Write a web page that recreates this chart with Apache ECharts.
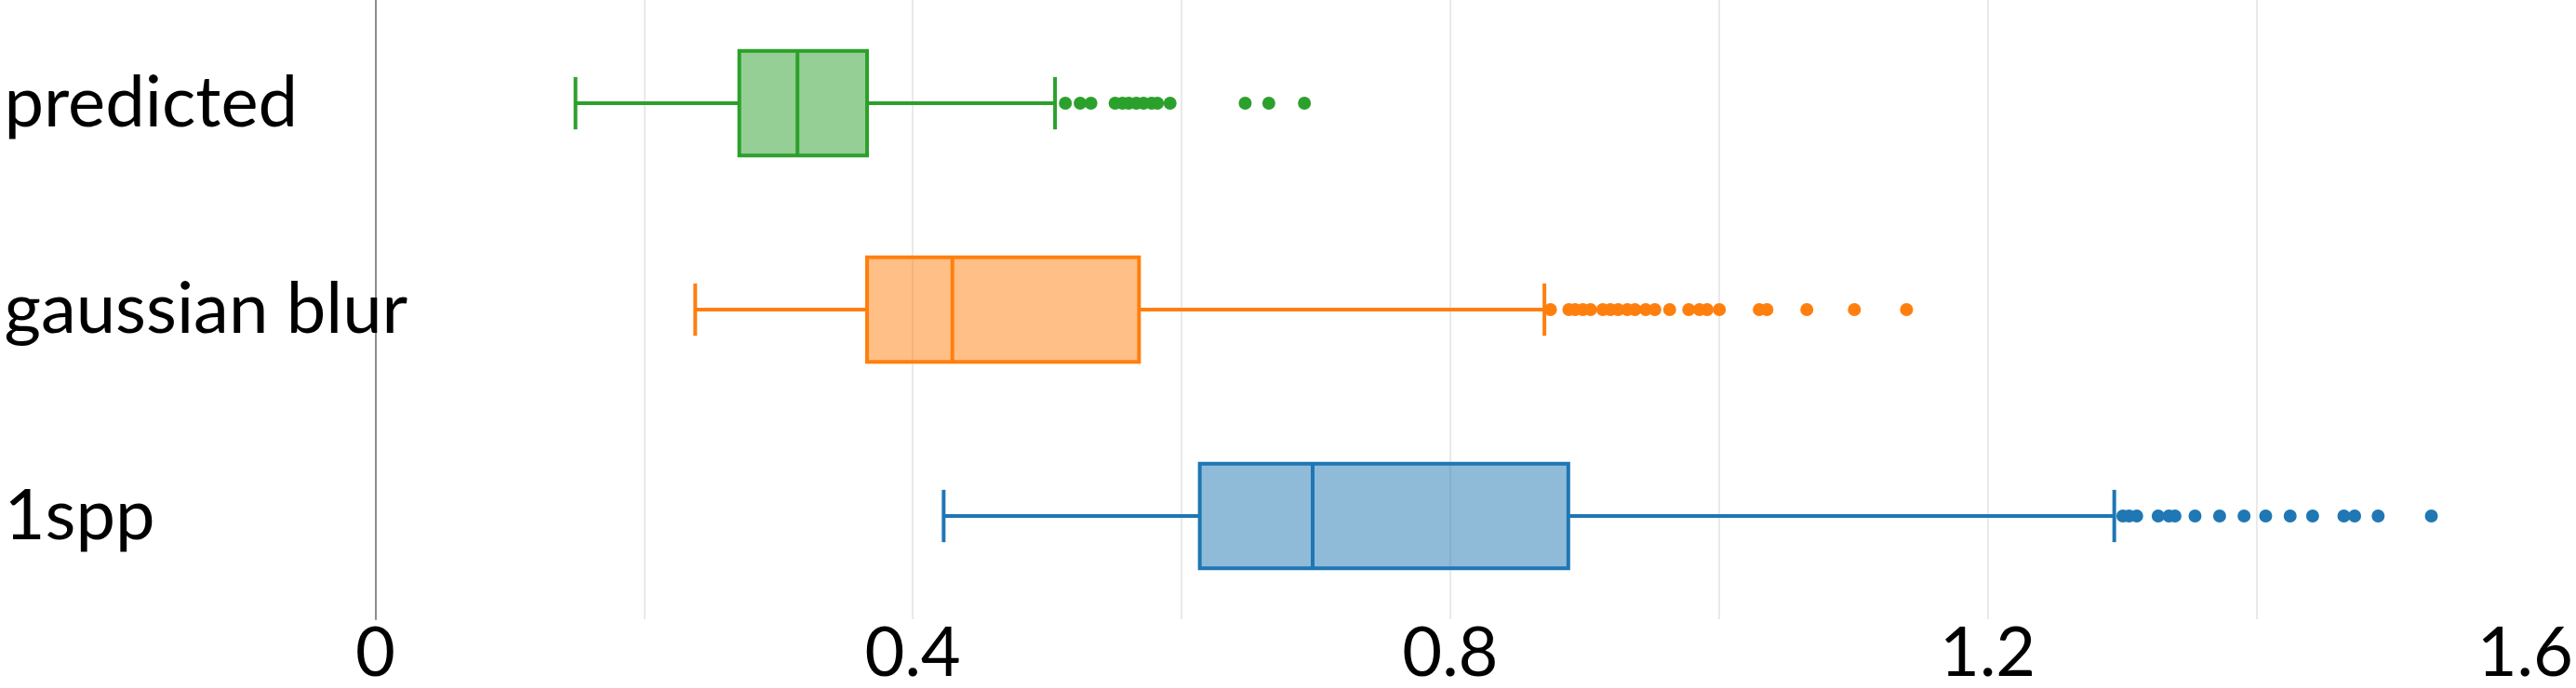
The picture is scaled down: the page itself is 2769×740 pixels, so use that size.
<!DOCTYPE html>
<html>
<head>
<meta charset="utf-8">
<script src="https://cdn.jsdelivr.net/npm/echarts@6/dist/echarts.min.js"></script>
<style>
html,body{margin:0;padding:0;background:#fff;}
#chart{width:2769px;height:740px;}
</style>
</head>
<body>
<div id="chart"></div>
<script>
// Categories, top to bottom
const categories = ['predicted', 'gaussian blur', '1spp'];
const colors = ['#2ca02c', '#ff7f0e', '#1f77b4'];
const fills = ['rgba(44,160,44,0.5)', 'rgba(255,127,14,0.5)', 'rgba(31,119,180,0.5)'];

// Box statistics: [lower whisker, Q1, median, Q3, upper whisker]
const predictedBox = [0.149, 0.2709, 0.3142, 0.366, 0.5059];
const gaussianBox = [0.2381, 0.366, 0.4295, 0.5684, 0.8701];
const sppBox = [0.423, 0.6136, 0.6976, 0.8879, 1.2942];

// Outliers
const predictedOutliers = [0.5136, 0.5246, 0.5326, 0.5506, 0.5561, 0.5607, 0.5664, 0.5718, 0.5778, 0.5821, 0.5915, 0.6474, 0.665, 0.6915];
const gaussianOutliers = [0.8746, 0.8883, 0.893, 0.8987, 0.9044, 0.9135, 0.9192, 0.925, 0.9318, 0.9375, 0.9455, 0.9523, 0.9633, 0.9775, 0.9855, 0.9912, 1.0003, 1.03, 1.0357, 1.0654, 1.1008, 1.1396];
const sppOutliers = [1.3006, 1.3052, 1.3109, 1.3269, 1.3349, 1.3394, 1.3543, 1.3726, 1.3908, 1.4069, 1.4251, 1.4418, 1.4651, 1.4731, 1.4906, 1.5302];

// Axis
const xMin = 0, xMax = 1.6, gridStep = 0.2;
const xTickLabels = ['0', '0.4', '0.8', '1.2', '1.6'];

const boxes = [predictedBox, gaussianBox, sppBox];
const outliers = [predictedOutliers, gaussianOutliers, sppOutliers];

const FONT = 'Lato, "Open Sans", sans-serif';

const chart = echarts.init(document.getElementById('chart'), null, {renderer: 'canvas'});

const boxSeries = boxes.map((b, i) => ({
  type: 'custom',
  name: categories[i],
  z: 2,
  encode: {x: [1, 2, 3, 4, 5], y: 0},
  data: [[i].concat(b)],
  renderItem: function (params, api) {
    const c = api.value(0);
    const yc = api.coord([0, c])[1];
    const band = api.size([0, 1])[1];
    const bh = band * 0.507;
    const ch = bh / 2;
    const xl = api.coord([api.value(1), c])[0];
    const q1 = api.coord([api.value(2), c])[0];
    const md = api.coord([api.value(3), c])[0];
    const q3 = api.coord([api.value(4), c])[0];
    const xh = api.coord([api.value(5), c])[0];
    const st = {stroke: colors[i], lineWidth: 4, fill: null};
    return {
      type: 'group',
      children: [
        {type: 'line', shape: {x1: xl, y1: yc, x2: q1, y2: yc}, style: st},
        {type: 'line', shape: {x1: q3, y1: yc, x2: xh, y2: yc}, style: st},
        {type: 'line', shape: {x1: xl, y1: yc - ch / 2, x2: xl, y2: yc + ch / 2}, style: st},
        {type: 'line', shape: {x1: xh, y1: yc - ch / 2, x2: xh, y2: yc + ch / 2}, style: st},
        {type: 'rect', shape: {x: q1, y: yc - bh / 2, width: q3 - q1, height: bh},
          style: {fill: fills[i], stroke: colors[i], lineWidth: 4}},
        {type: 'line', shape: {x1: md, y1: yc - bh / 2, x2: md, y2: yc + bh / 2}, style: st}
      ]
    };
  }
}));

const outlierSeries = outliers.map((o, i) => ({
  type: 'scatter',
  name: categories[i] + ' outliers',
  z: 3,
  symbol: 'circle',
  symbolSize: 14,
  itemStyle: {color: colors[i], opacity: 1},
  data: o.map(v => [v, i])
}));

chart.setOption({
  animation: false,
  backgroundColor: '#ffffff',
  grid: {left: 403.4, right: 30.4, top: -6.7, height: 690, containLabel: false},
  xAxis: {
    type: 'value',
    min: xMin, max: xMax, interval: gridStep,
    axisLine: {show: false},
    axisTick: {show: false},
    splitLine: {show: true, showMinLine: false, showMaxLine: false, lineStyle: {color: '#e9e9e9', width: 2}},
    axisLabel: {
      show: true,
      fontFamily: FONT, fontSize: 74, color: '#000',
      margin: 0,
      formatter: function (v) {
        const k = Math.round(v / gridStep);
        return k % 2 === 0 ? xTickLabels[k / 2] : '';
      }
    }
  },
  yAxis: {
    type: 'category',
    data: categories,
    inverse: true,
    axisLine: {show: true, lineStyle: {color: '#8c8c8c', width: 2}},
    axisTick: {show: false},
    splitLine: {show: false},
    axisLabel: {
      fontFamily: FONT, fontSize: 76, color: '#000',
      align: 'left', margin: 399, verticalAlign: 'middle',
      padding: [0, 0, 16, 0]
    }
  },
  series: boxSeries.concat(outlierSeries)
});
</script>
</body>
</html>
